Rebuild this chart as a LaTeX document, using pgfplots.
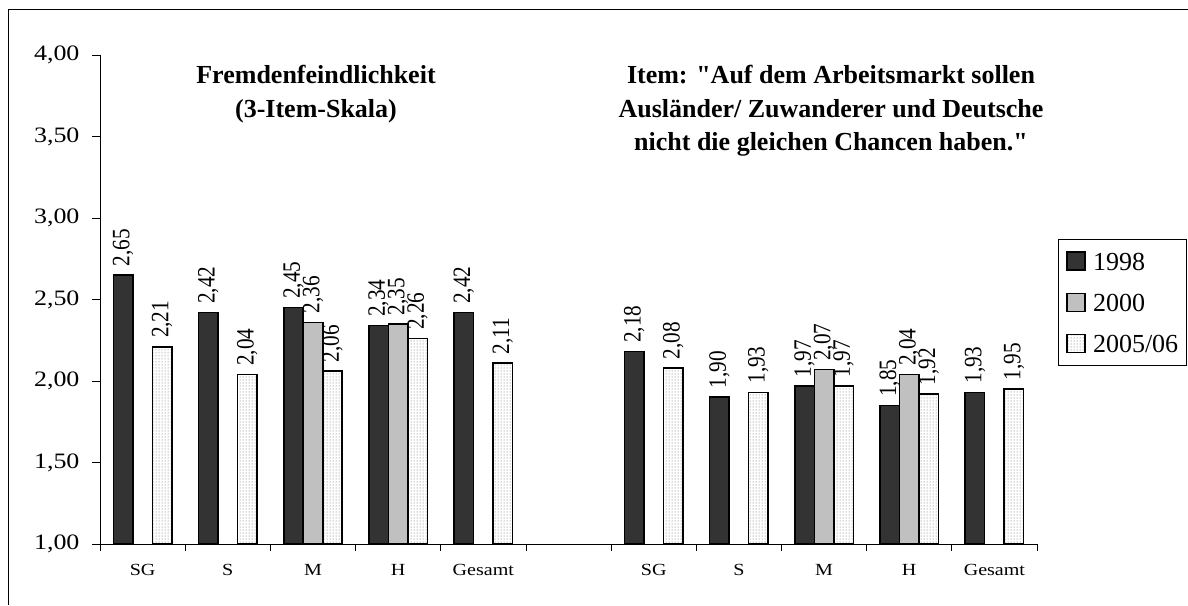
\documentclass[border=0pt]{standalone}
\usepackage{fontspec}
\setmainfont{Liberation Serif}[Ligatures=TeXOff]
\newfontfamily\wideserif{Liberation Serif}[FakeStretch=1.18]
\newfontfamily\narrowserif{Liberation Serif}[FakeStretch=0.85]
\usepackage{pgfplots}
\pgfplotsset{compat=1.18}
\usetikzlibrary{patterns}
\definecolor{darkbar}{HTML}{333333}
\definecolor{graybar}{HTML}{C0C0C0}
\pgfplotsset{sqlegend/.style={legend image code/.code={\draw[##1] (0pt,-9pt) rectangle (18pt,9pt);}}}
\begin{document}
\begin{tikzpicture}
\begin{axis}[
  at={(100pt,61pt)}, anchor=south west, width=937pt, height=489pt, scale only axis,
  xmin=-0.5, xmax=10.5, ymin=1, ymax=4,
  axis x line=bottom, axis y line=left, axis line style={-, line width=0.8pt},
  ybar=0pt, bar width=19.5pt,
  ytick={1,1.5,2,2.5,3,3.5,4},
  xtick={0,1,2,3,4,6,7,8,9,10},
  xticklabels={SG,S,M,H,Gesamt,SG,S,M,H,Gesamt},
  minor xtick={-0.5,0.5,...,10.5},
  tick align=outside, major tick length=8pt, minor tick length=7pt,
  major x tick style={draw=none},
  tick style={line width=0.8pt, black},
  /pgf/number format/.cd, use comma, fixed, fixed zerofill, precision=2, assume math mode=true, /pgfplots/.cd,
  yticklabel style={font=\wideserif\fontsize{22}{26}\selectfont, xshift=-9pt},
  xticklabel style={font=\wideserif\fontsize{17}{20}\selectfont, text height=12pt, yshift=-8pt},
  nodes near coords,
  every node near coord/.append style={font=\narrowserif\fontsize{25}{30}\selectfont, rotate=90, anchor=west, inner xsep=8pt, inner ysep=0pt, black},
  legend style={at={(1.0224,0.6237)}, anchor=north west, draw=black, line width=0.8pt,
    font=\fontsize{26}{30}\selectfont, inner xsep=8pt, inner ysep=12pt, column sep=7pt, row sep=21.5pt,
    nodes={inner sep=0pt, text height=18pt, text depth=0pt}},
  legend cell align=left,
  clip=false,
]
\addplot[fill=darkbar, draw=black, line width=1.6pt, sqlegend]
  coordinates {(0,2.65) (1,2.42) (2,2.45) (3,2.34) (4,2.42) (6,2.18) (7,1.90) (8,1.97) (9,1.85) (10,1.93)};
\addplot[fill=graybar, draw=black, line width=1.6pt, sqlegend]
  coordinates {(2,2.36) (3,2.35) (8,2.07) (9,2.04)};
\addplot[fill=white, postaction={pattern=dots, pattern color=gray!80!black}, draw=black, line width=1.6pt, sqlegend]
  coordinates {(0,2.21) (1,2.04) (2,2.06) (3,2.26) (4,2.11) (6,2.08) (7,1.93) (8,1.97) (9,1.92) (10,1.95)};
\legend{1998,2000,2005/06}
\end{axis}
\draw[line width=1pt] (1188pt,595pt) -- (8pt,595pt) -- (8pt,0pt);
\begin{scope}[every node/.style={font=\bfseries\fontsize{26}{33}\selectfont, anchor=base, inner sep=0pt}]
\node at (316pt,521pt) {Fremdenfeindlichkeit};
\node at (316pt,487pt) {(3-Item-Skala)};
\node at (831pt,521pt) {Item: "Auf dem Arbeitsmarkt sollen};
\node at (831pt,487pt) {Ausländer/ Zuwanderer und Deutsche};
\node at (831pt,454pt) {nicht die gleichen Chancen haben."};
\end{scope}
\pgfresetboundingbox
\path[use as bounding box] (0,0) rectangle (1188pt,605pt);
\end{tikzpicture}
\end{document}
